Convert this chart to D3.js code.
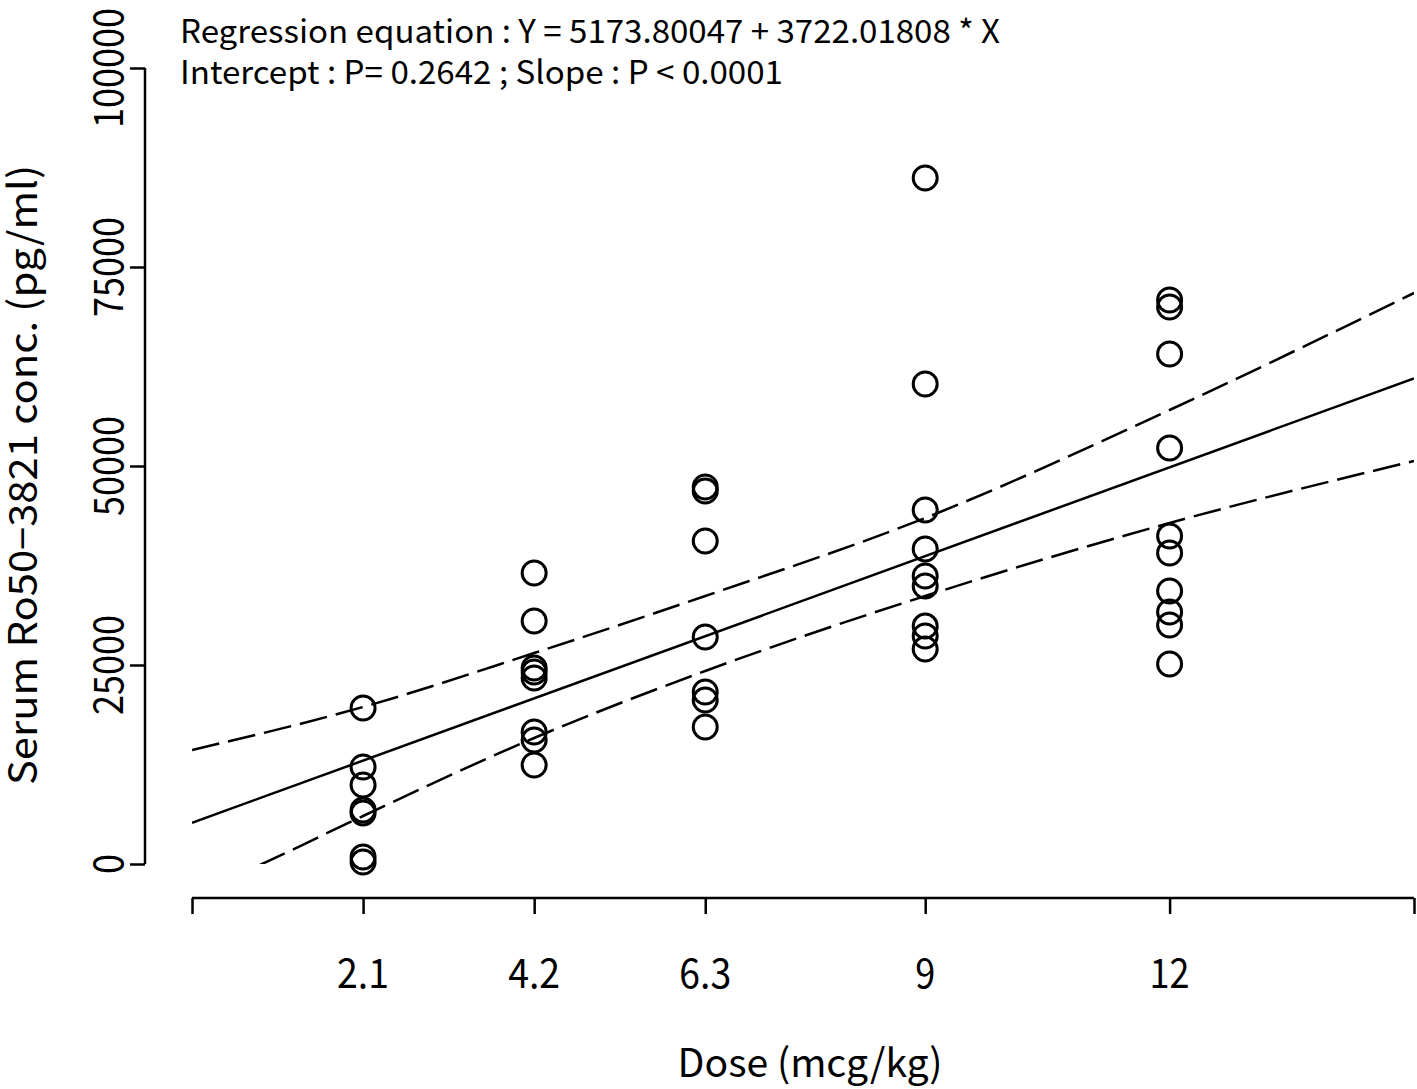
<!DOCTYPE html>
<html>
<head>
<meta charset="utf-8">
<script src="https://cdn.jsdelivr.net/npm/d3@7"></script>
<style>
  html, body { margin: 0; padding: 0; background: #fff; }
  svg { display: block; }
  text { font-family: "Noto Sans CJK JP", "Noto Sans", sans-serif; fill: #000; }
</style>
</head>
<body>
<svg id="chart" width="1417" height="1089"></svg>
<script>
// ---- data ----
const doseTicks = [2.1, 4.2, 6.3, 9, 12];
const doseTickLabels = ["2.1", "4.2", "6.3", "9", "12"];
const yTicks = [0, 25000, 50000, 75000, 100000];
const yTickLabels = ["0", "25000", "50000", "75000", "100000"];

const dose21 = [19600, 12190, 9920, 6780, 6410, 880, 250];
const dose42 = [36560, 30530, 24620, 24120, 23370, 16580, 15580, 12440];
const dose63 = [47360, 46860, 40580, 28520, 21610, 20600, 17210];
const dose90 = [86180, 60300, 44470, 39570, 36180, 34920, 29890, 28640, 27010];
const dose120 = [70860, 69980, 64070, 52260, 41210, 39070, 34300, 31660, 30030, 25130];

const interceptCoef = 5173.80047;
const slopeCoef = 3722.01808;

const upperBandX = [0, 2.1, 4.2, 6.3, 9, 12, 15];
const upperBandY = [14322, 19724, 26500, 33669, 43468, 57036, 71734];
const lowerBandX = [0, 0.86, 2.1, 4.2, 6.3, 9, 12, 15];
const lowerBandY = [-3980, 0, 6030, 15830, 24247, 33669, 42840, 50629];

const line1 = "Regression equation : Y = 5173.80047 + 3722.01808 * X";
const line2 = "Intercept : P= 0.2642 ; Slope : P < 0.0001";
const xTitle = "Dose (mcg/kg)";
const yTitle = "Serum Ro50\u22123821 conc. (pg/ml)";

// ---- layout ----
const svg = d3.select("#chart");
const x = d3.scaleLinear().domain([0, 15]).range([192, 1414]);
const y = d3.scaleLinear().domain([0, 100000]).range([864, 68]);

const groups = [
  {dose: 2.1, vals: dose21},
  {dose: 4.2, vals: dose42},
  {dose: 6.3, vals: dose63},
  {dose: 9, vals: dose90},
  {dose: 12, vals: dose120}
];
const points = groups.flatMap(g => g.vals.map(v => ({x: g.dose, y: v})));

// clip region for lines
svg.append("defs").append("clipPath").attr("id", "plotclip")
  .append("rect").attr("x", 192).attr("y", 0).attr("width", 1222).attr("height", 864);

// ---- axes ----
const yAxis = d3.axisLeft(y).tickValues(yTicks).tickSize(15).tickFormat("");
const yg = svg.append("g").attr("transform", "translate(145,0)").call(yAxis);
yg.select(".domain").attr("d", `M0,${y(0)}V${y(100000)}`);
yg.selectAll("path, line").attr("stroke", "#000").attr("stroke-width", 2.5);

const xAxis = d3.axisBottom(x).tickValues([0, ...doseTicks, 15]).tickSize(16).tickFormat("");
const xg = svg.append("g").attr("transform", "translate(0,898)").call(xAxis);
xg.select(".domain").attr("d", `M${x(0)},0H${x(15)}`);
xg.selectAll("path, line").attr("stroke", "#000").attr("stroke-width", 2.5);

// y tick labels (rotated)
svg.append("g").selectAll("text").data(yTicks).join("text")
  .attr("transform", d => `translate(123,${y(d)}) rotate(-90)`)
  .attr("text-anchor", "middle")
  .attr("font-size", 40)
  .attr("textLength", (d, i) => yTickLabels[i].length * 20)
  .attr("lengthAdjust", "spacingAndGlyphs")
  .text((d, i) => yTickLabels[i]);

// x tick labels
svg.append("g").selectAll("text").data(doseTicks).join("text")
  .attr("x", d => x(d)).attr("y", 988)
  .attr("text-anchor", "middle")
  .attr("font-size", 40)
  .attr("textLength", (d, i) => doseTickLabels[i].length === 3 ? 52 : doseTickLabels[i].length * 20)
  .attr("lengthAdjust", "spacingAndGlyphs")
  .text((d, i) => doseTickLabels[i]);

// axis titles
svg.append("text").attr("x", 810).attr("y", 1077).attr("text-anchor", "middle")
  .attr("font-size", 39).attr("textLength", 265).attr("lengthAdjust", "spacingAndGlyphs")
  .text(xTitle);
svg.append("text").attr("transform", "translate(37,475) rotate(-90)").attr("text-anchor", "middle")
  .attr("font-size", 39).attr("textLength", 620).attr("lengthAdjust", "spacingAndGlyphs")
  .text(yTitle);

// header text
svg.append("text").attr("x", 180).attr("y", 43).attr("font-size", 32)
  .attr("textLength", 820).attr("lengthAdjust", "spacingAndGlyphs").text(line1);
svg.append("text").attr("x", 180).attr("y", 84).attr("font-size", 32)
  .attr("textLength", 603).attr("lengthAdjust", "spacingAndGlyphs").text(line2);

// ---- lines ----
const plot = svg.append("g").attr("clip-path", "url(#plotclip)");
const fitLine = d3.line().x(d => x(d)).y(d => y(interceptCoef + slopeCoef * d));
plot.append("path").attr("d", fitLine([0, 15]))
  .attr("fill", "none").attr("stroke", "#000").attr("stroke-width", 2.5);

const bandLine = d3.line().x(d => x(d[0])).y(d => y(d[1])).curve(d3.curveMonotoneX);
plot.append("path").attr("d", bandLine(d3.zip(upperBandX, upperBandY)))
  .attr("fill", "none").attr("stroke", "#000").attr("stroke-width", 2.5)
  .attr("stroke-dasharray", "28,9");
plot.append("path").attr("d", bandLine(d3.zip(lowerBandX, lowerBandY)))
  .attr("fill", "none").attr("stroke", "#000").attr("stroke-width", 2.5)
  .attr("stroke-dasharray", "28,9");

// ---- points ----
svg.append("g").selectAll("circle").data(points).join("circle")
  .attr("cx", d => x(d.x)).attr("cy", d => y(d.y)).attr("r", 12)
  .attr("fill", "none").attr("stroke", "#000").attr("stroke-width", 3);
</script>
</body>
</html>
